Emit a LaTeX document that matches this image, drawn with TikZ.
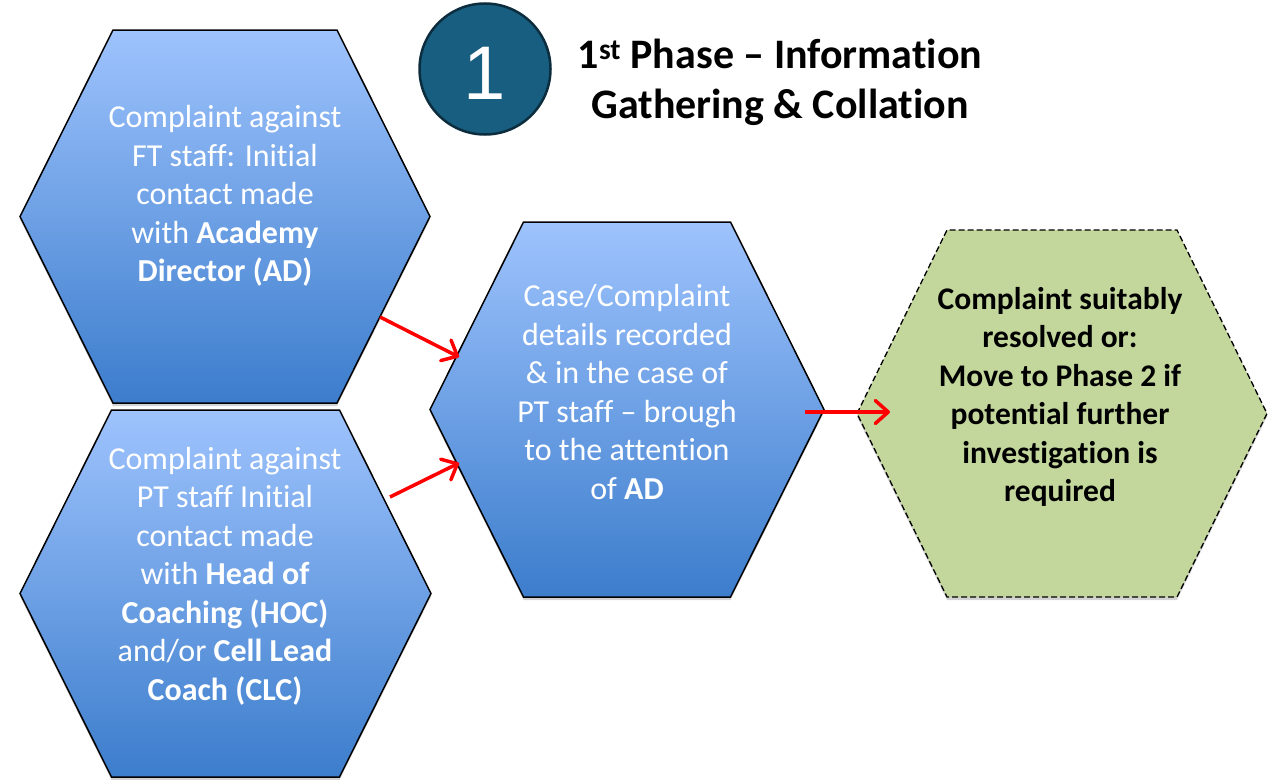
\documentclass[tikz,border=0pt]{standalone}
\usepackage{fontspec}
\setmainfont{Carlito}[Ligatures=NoCommon]
\newfontfamily\arialfont{Liberation Sans}
\usetikzlibrary{arrows.meta,shadows}
\definecolor{hexTop}{RGB}{158,195,253}
\definecolor{hexBot}{RGB}{60,125,204}
\definecolor{hexGreen}{RGB}{195,214,155}
\definecolor{circFill}{RGB}{24,94,128}
\definecolor{circLine}{RGB}{12,45,62}
\definecolor{arrowRed}{RGB}{255,0,0}
% #1 cx, #2 cy, #3 half width, #4 half top width, #5 half height
\newcommand\hexpath[5]{(#1-#3,#2) -- (#1-#4,#2-#5) -- (#1+#4,#2-#5) -- (#1+#3,#2) -- (#1+#4,#2+#5) -- (#1-#4,#2+#5) -- cycle}
\tikzset{
  hexblue/.style={draw=black, line width=1.5pt, top color=hexTop, bottom color=hexBot,
    drop shadow={shadow xshift=0pt, shadow yshift=-3pt, opacity=0.35}},
  hexgreen/.style={draw=black, line width=1.3pt, dash pattern=on 6pt off 3pt, fill=hexGreen,
    drop shadow={shadow xshift=0pt, shadow yshift=-3pt, opacity=0.35}},
  hextext/.style={align=center, text=white, font=\fontsize{32}{38.5}\selectfont, inner sep=0pt},
  greentext/.style={align=center, text=black, font=\bfseries\fontsize{31.5}{38.5}\selectfont, inner sep=0pt},
  titletext/.style={align=center, text=black, font=\bfseries\fontsize{42}{50}\selectfont, inner sep=0pt},
  flowarrow/.style={arrowRed, line width=3.5pt, -{Straight Barb[length=13pt,width=23pt,line width=3.5pt,round]}}
}
\begin{document}
\begin{tikzpicture}[x=1pt,y=-1pt]
\useasboundingbox (0,0) rectangle (1281,779);
% hexagons
\draw[hexblue] \hexpath{225}{216.5}{205}{112}{186.5};
\draw[hexblue] \hexpath{225.5}{593.5}{205.5}{114}{183.5};
\draw[hexblue] \hexpath{627}{409.5}{197}{103.5}{187.5};
\draw[hexgreen] \hexpath{1062}{413.5}{205}{115}{183.5};
% texts
\node[hextext] (t1) at (225,196) {Complaint against\\FT staff: Initial\\contact made\\with \textbf{Academy}\\\textbf{Director (AD)}};
\node[hextext] (t2) at (225,576) {Complaint against\\PT staff Initial\\contact made\\with \textbf{Head of}\\\textbf{Coaching (HOC)}\\and/or \textbf{Cell Lead}\\\textbf{Coach (CLC)}};
\node[hextext] (t3) at (627,392) {Case/Complaint\\details recorded\\\& in the case of\\PT staff – brough\\to the attention\\of \textbf{AD}};
\node[greentext] (t4) at (1060,397) {Complaint suitably\\resolved or:\\Move to Phase 2 if\\potential further\\investigation is\\required};
% circle and title
\node[circle, fill=circFill, draw=circLine, line width=2.5pt, minimum size=131pt, inner sep=0pt] (c1) at (485,69) {};
\node[text=white, inner sep=0pt] (n1) at (485,73) {\arialfont\fontsize{76}{76}\selectfont 1};
\node[titletext] (title) at (780,82) {1\textsuperscript{st} Phase – Information\\Gathering \& Collation};
% arrows
\coordinate (a1s) at (380,317);
\coordinate (a1e) at (459,357);
\coordinate (a2s) at (390,497);
\coordinate (a2e) at (459,463);
\coordinate (a3s) at (805,412);
\coordinate (a3e) at (890,412);
\draw[flowarrow] (a1s) -- (a1e);
\draw[flowarrow] (a2s) -- (a2e);
\draw[flowarrow] (a3s) -- (a3e);
\end{tikzpicture}
\end{document}
